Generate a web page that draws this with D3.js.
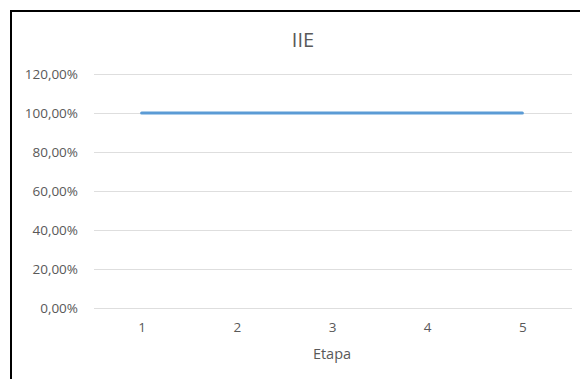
<!DOCTYPE html>
<html>
<head>
<meta charset="utf-8">
<script src="https://cdn.jsdelivr.net/npm/d3@7"></script>
<style>
  html, body { margin: 0; padding: 0; background: #fff; }
  svg { display: block; }
</style>
</head>
<body>
<svg id="chart" width="580" height="379"></svg>
<script>
// Chart data
const title = "IIE";
const xTitle = "Etapa";
const categories = ["1", "2", "3", "4", "5"];
const values = [1.0, 1.0, 1.0, 1.0, 1.0];
const yTicks = [0, 0.2, 0.4, 0.6, 0.8, 1.0, 1.2];

const font = "'Open Sans', 'Liberation Sans', sans-serif";
const textColor = "#595959";

const svg = d3.select("#chart");

// Chart area frame (extends past the window on right and bottom)
svg.append("rect")
  .attr("x", 11).attr("y", 11)
  .attr("width", 600).attr("height", 400)
  .attr("fill", "#fff")
  .attr("stroke", "#000")
  .attr("stroke-width", 2);

const plot = { left: 94, right: 572, top: 74, bottom: 308 };

const x = d3.scalePoint()
  .domain(categories)
  .range([plot.left, 570])
  .padding(0.5);

const y = d3.scaleLinear()
  .domain([0, 1.2])
  .range([plot.bottom, plot.top]);

const fmt = v => d3.format(".2f")(v * 100).replace(".", ",") + "%";

// Horizontal gridlines + y labels
const yAxis = d3.axisLeft(y)
  .tickValues(yTicks)
  .tickSize(-(plot.right - plot.left))
  .tickPadding(16)
  .tickFormat(fmt);

const gy = svg.append("g")
  .attr("transform", `translate(${plot.left},0)`)
  .call(yAxis);
gy.select(".domain").remove();
gy.selectAll(".tick line")
  .attr("stroke", "#dedede")
  .attr("stroke-width", 1)
  .attr("shape-rendering", "crispEdges");
gy.selectAll(".tick text")
  .attr("fill", textColor)
  .style("font-family", font)
  .style("font-size", "13.5px");

// Category labels
const xAxis = d3.axisBottom(x).tickSize(0).tickPadding(14);
const gx = svg.append("g")
  .attr("transform", `translate(0,${plot.bottom})`)
  .call(xAxis);
gx.select(".domain").remove();
gx.selectAll(".tick text")
  .attr("fill", textColor)
  .style("font-family", font)
  .style("font-size", "13.5px");

// Series line
const line = d3.line()
  .x((d, i) => x(categories[i]))
  .y(d => y(d));

svg.append("path")
  .datum(values)
  .attr("d", line)
  .attr("fill", "none")
  .attr("stroke", "#5b9bd5")
  .attr("stroke-width", 3)
  .attr("stroke-linecap", "round");

// Chart title
svg.append("text")
  .attr("x", 303).attr("y", 47)
  .attr("text-anchor", "middle")
  .attr("fill", textColor)
  .style("font-family", font)
  .style("font-size", "20px")
  .text(title);

// Axis title
svg.append("text")
  .attr("x", 332).attr("y", 359)
  .attr("text-anchor", "middle")
  .attr("fill", textColor)
  .style("font-family", font)
  .style("font-size", "14.5px")
  .text(xTitle);
</script>
</body>
</html>
